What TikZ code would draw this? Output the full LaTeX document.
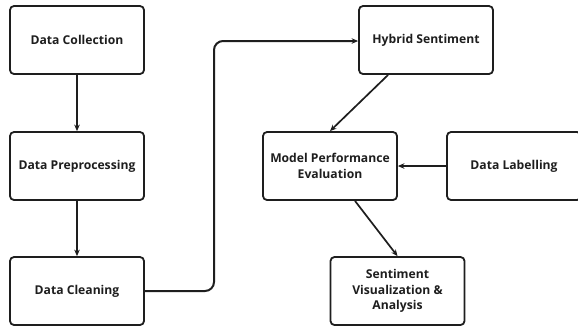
\documentclass[tikz,border=0pt]{standalone}
\usepackage{fontspec}
\setmainfont{Open Sans}
\usetikzlibrary{arrows.meta,calc}
\definecolor{ink}{HTML}{1E1E1E}
\begin{document}
\begin{tikzpicture}[x=1bp,y=-1bp,
  box/.style={draw=ink,line width=1.8bp,rounded corners=4bp,fill=white,
    minimum width=134bp,minimum height=68bp,align=center,inner sep=2bp,
    font=\fontsize{12.2}{15.5}\selectfont\bfseries,text=ink},
  conn/.style={draw=ink,line width=1.7bp,-{Stealth[length=6.5bp,width=5.5bp]}}]
\useasboundingbox (0,0) rectangle (578,329);
\fill[white] (0,0) rectangle (578,329);
\node[box] (col) at (77,40) {Data Collection};
\node[box] (pre) at (77,166) {Data Preprocessing};
\node[box] (cle) at (77,291) {Data Cleaning};
\node[box] (hyb) at (426,40) {Hybrid Sentiment};
\node[box] (mod) at (330,166) {Model Performance\\Evaluation};
\node[box] (lab) at (514,166) {Data Labelling};
\node[box] (vis) at (397.5,291) {Sentiment\\Visualization \&\\Analysis};
\coordinate (b1) at (214,291);
\coordinate (b2) at (214,41);
\coordinate (h1) at ($(hyb.south west)+(30,0)$);
\coordinate (m1) at ($(mod.south)+(25,0)$);
\draw[conn] (col) -- (pre);
\draw[conn] (pre) -- (cle);
\draw[conn,line width=2bp,rounded corners=9bp] (cle.east |- b1) -- (b1) -- (b2) -- (hyb.west |- b2);
\draw[conn] (h1) -- (mod.north);
\draw[conn] (lab.west) -- (mod.east);
\draw[conn] (m1) -- (vis.north);
\end{tikzpicture}
\end{document}
